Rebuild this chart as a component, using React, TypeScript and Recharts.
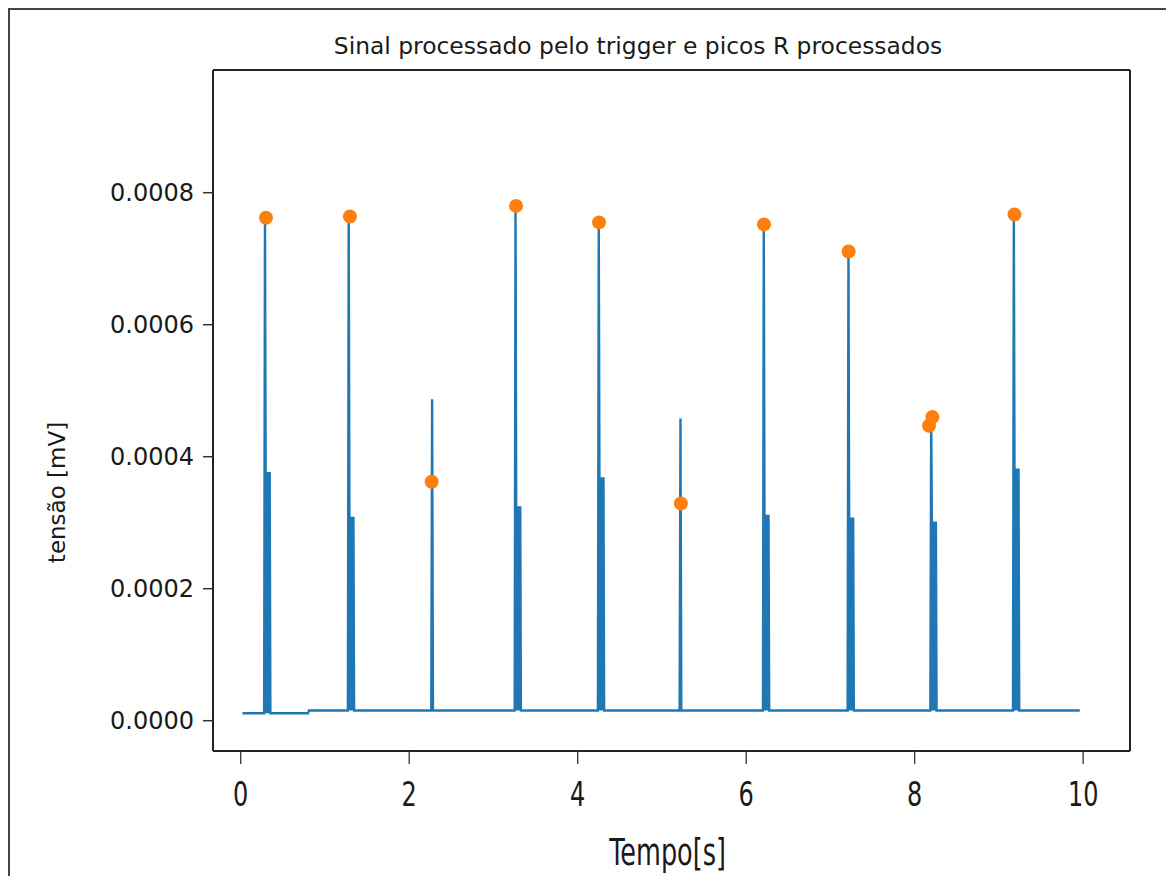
import React from "react";
import {
  ComposedChart,
  Line,
  Scatter,
  XAxis,
  YAxis,
  ReferenceLine,
} from "recharts";

// beats of the processed trigger signal (time of the R spike, its top, and the lower shoulder right after)
const beatTimes = [0.288, 1.282, 2.272, 3.262, 4.25, 5.22, 6.209, 7.214, 8.196, 9.177];
const beatPeaks = [0.000762, 0.000764, 0.000487, 0.00078, 0.000755, 0.000458, 0.000752, 0.000711, 0.00046, 0.000767];
const beatShoulders = [0.000377, 0.000309, 0, 0.000325, 0.000369, 0, 0.000312, 0.000308, 0.000302, 0.000382];

// baseline levels: first stretch, then the rest of the record
const baseStart = 0.02;
const baseSwitch = 0.8;
const baseEnd = 9.96;
const baseLow = 0.0000112;
const baseHigh = 0.0000155;

// detected R peaks (orange dots)
const peakTimes = [0.3, 1.297, 2.267, 3.268, 4.253, 5.225, 6.211, 7.216, 8.17, 8.21, 9.185];
const peakValues = [0.000762, 0.000764, 0.000362, 0.00078, 0.000755, 0.000329, 0.000752, 0.000711, 0.000447, 0.00046, 0.000767];

const xTicks = [0, 2, 4, 6, 8, 10];
const yTicks = [0, 0.0002, 0.0004, 0.0006, 0.0008];
const xDomain: [number, number] = [-0.329, 10.556];
const yDomain: [number, number] = [-0.0000459, 0.0009859];

const FONT = "'DejaVu Sans', 'Liberation Sans', sans-serif";
const BLUE = "#1f77b4";
const ORANGE = "#ff7f0e";
const INK = "#1a1a1a";
const FRAME = "#222";

// offsets inside the shoulder burst, alternating shoulder level / baseline
const burst = [0.008, 0.016, 0.024, 0.032, 0.04, 0.048, 0.056, 0.064];

function buildSignal() {
  const pts: { t: number; v: number }[] = [{ t: baseStart, v: baseLow }];
  beatTimes.forEach((t0, i) => {
    const base = t0 < baseSwitch ? baseLow : baseHigh;
    const sh = beatShoulders[i];
    pts.push({ t: t0 - 0.01, v: base });
    pts.push({ t: t0, v: beatPeaks[i] });
    if (sh > 0) {
      burst.forEach((d, k) => pts.push({ t: t0 + d, v: k % 2 === 0 ? sh : base }));
    } else {
      pts.push({ t: t0 + 0.01, v: base });
    }
    if (t0 < baseSwitch && beatTimes[i + 1] > baseSwitch) {
      pts.push({ t: baseSwitch, v: baseLow });
      pts.push({ t: baseSwitch + 0.01, v: baseHigh });
    }
  });
  pts.push({ t: baseEnd, v: baseHigh });
  return pts;
}

const signal = buildSignal();
const peaks = peakTimes.map((t, i) => ({ t, v: peakValues[i] }));

const XTick = (props: any) => {
  const { x, y, payload } = props;
  return (
    <text
      transform={`translate(${x}, ${y + 40}) scale(1, 1.44)`}
      textAnchor="middle"
      fontFamily={FONT}
      fontSize={24}
      fill={INK}
    >
      {payload.value}
    </text>
  );
};

const Dot = (props: any) => <circle cx={props.cx} cy={props.cy} r={7} fill={ORANGE} />;

export default function App() {
  return (
    <div style={{ position: "relative", width: 1166, height: 868 }}>
      <div
        style={{
          position: "absolute",
          left: 0,
          top: 0,
          width: 1166,
          height: 868,
          boxSizing: "border-box",
          borderTop: "2px solid #444",
          borderLeft: "2px solid #444",
        }}
      />
      <div style={{ position: "absolute", left: 0, top: 0 }}>
        <ComposedChart
          width={1166}
          height={868}
          margin={{ top: 62, right: 44, left: 0, bottom: 0 }}
        >
          <XAxis
            dataKey="t"
            type="number"
            domain={xDomain}
            ticks={xTicks}
            allowDataOverflow
            height={125}
            axisLine={{ stroke: FRAME, strokeWidth: 2 }}
            tickLine={{ stroke: "#333", strokeWidth: 1.3 }}
            tickSize={13}
            tick={<XTick />}
            label={{
              content: (p: any) => {
                const vb = p.viewBox;
                return (
                  <text
                    transform={`translate(${vb.x + vb.width / 2 - 4}, ${vb.y + 114}) scale(1, 1.44)`}
                    textAnchor="middle"
                    fontFamily={FONT}
                    fontSize={25.5}
                    fill={INK}
                  >
                    Tempo[s]
                  </text>
                );
              },
            }}
          />
          <YAxis
            type="number"
            domain={yDomain}
            ticks={yTicks}
            allowDataOverflow
            width={205}
            axisLine={{ stroke: FRAME, strokeWidth: 2 }}
            tickLine={{ stroke: "#333", strokeWidth: 1.5 }}
            tickSize={10}
            tickMargin={9}
            tickFormatter={(v: number) => v.toFixed(4)}
            tick={{ fontFamily: FONT, fontSize: 24, fill: INK }}
            label={{
              content: (p: any) => {
                const vb = p.viewBox;
                return (
                  <text
                    transform={`translate(${vb.x + 57}, ${vb.y + vb.height / 2 + 82}) rotate(-90)`}
                    textAnchor="middle"
                    fontFamily={FONT}
                    fontSize={23}
                    fill={INK}
                  >
                    tensão [mV]
                  </text>
                );
              },
            }}
          />
          <ReferenceLine y={yDomain[1]} stroke={FRAME} strokeWidth={2} ifOverflow="visible" />
          <ReferenceLine x={xDomain[1]} stroke={FRAME} strokeWidth={2} ifOverflow="visible" />
          <Line
            data={signal}
            dataKey="v"
            type="linear"
            stroke={BLUE}
            strokeWidth={2.4}
            dot={false}
            activeDot={false}
            isAnimationActive={false}
          />
          <Scatter
            data={peaks}
            dataKey="v"
            fill={ORANGE}
            shape={<Dot />}
            isAnimationActive={false}
          />
        </ComposedChart>
      </div>
      <svg
        width={1166}
        height={868}
        style={{ position: "absolute", left: 0, top: 0, pointerEvents: "none" }}
      >
        <text x={630} y={45.5} textAnchor="middle" fontFamily={FONT} fontSize={23.4} fill={INK}>
          Sinal processado pelo trigger e picos R processados
        </text>
      </svg>
    </div>
  );
}
